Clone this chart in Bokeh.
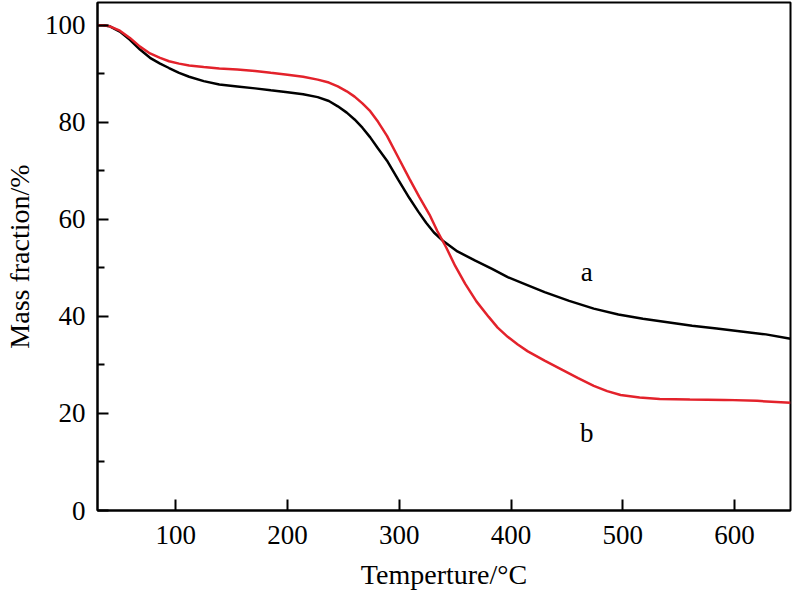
from bokeh.plotting import figure
from bokeh.models import FixedTicker, Range1d
from bokeh.core.properties import value
from bokeh.embed import file_html
from bokeh.resources import INLINE

# Sample a (black)
temp_a = [30, 35, 41, 50, 59, 68, 77, 86, 94, 103, 112, 125, 139, 155, 171, 185, 200, 214, 227, 237, 245, 253, 260, 267, 274, 281, 289, 299, 309, 317, 324, 331, 339, 352, 368, 383, 397, 414, 430, 452, 474, 496, 518, 540, 562, 584, 606, 628, 650]
mass_a = [100, 100, 99.8, 98.7, 97.0, 95.0, 93.3, 92.1, 91.2, 90.2, 89.4, 88.5, 87.8, 87.4, 87.0, 86.6, 86.2, 85.8, 85.2, 84.4, 83.3, 82.0, 80.6, 78.9, 76.9, 74.6, 72.1, 68.2, 64.4, 61.6, 59.3, 57.3, 55.6, 53.4, 51.5, 49.8, 48.1, 46.5, 45.0, 43.2, 41.6, 40.4, 39.5, 38.8, 38.1, 37.5, 36.9, 36.3, 35.4]

# Sample b (red)
temp_b = [30, 35, 41, 50, 59, 68, 77, 86, 94, 103, 112, 125, 139, 155, 171, 185, 200, 214, 227, 237, 245, 253, 260, 267, 274, 281, 289, 299, 309, 318, 327, 334, 342, 350, 359, 369, 380, 388, 397, 406, 415, 430, 445, 460, 474, 486, 498, 515, 533, 560, 591, 620, 650]
mass_b = [100, 100, 99.8, 98.9, 97.4, 95.6, 94.2, 93.3, 92.6, 92.1, 91.7, 91.4, 91.1, 90.9, 90.6, 90.2, 89.8, 89.4, 88.8, 88.2, 87.4, 86.4, 85.3, 83.9, 82.3, 80.1, 77.2, 72.8, 68.4, 64.6, 61.0, 57.6, 54.2, 50.4, 46.7, 43.1, 39.9, 37.7, 35.8, 34.2, 32.8, 30.9, 29.1, 27.3, 25.7, 24.6, 23.8, 23.3, 23.0, 22.9, 22.8, 22.6, 22.2]

x_ticks = [100, 200, 300, 400, 500, 600]
y_ticks = [0, 20, 40, 60, 80, 100]
y_minor = [10, 30, 50, 70, 90]

FONT = "Liberation Serif"

p = figure(width=792, height=594, output_backend="svg", toolbar_location=None,
           x_range=Range1d(30, 650), y_range=Range1d(0, 104.7),
           min_border_left=97, min_border_right=2, min_border_top=2, min_border_bottom=84)

p.grid.visible = False
p.background_fill_color = "white"
p.border_fill_color = "white"
p.outline_line_color = "black"
p.outline_line_width = 2
p.outline_line_alpha = 1.0

p.line(temp_a, mass_a, line_color="black", line_width=2.5)
p.line(temp_b, mass_b, line_color="#e3222b", line_width=2.5)

p.text(x=[467.8], y=[49.1], text=["a"], text_font=value(FONT), text_font_size="27px",
       text_align="center", text_baseline="middle", text_color="black")
p.text(x=[467.8], y=[15.9], text=["b"], text_font=value(FONT), text_font_size="27px",
       text_align="center", text_baseline="middle", text_color="black")

xa = p.xaxis[0]
xa.ticker = FixedTicker(ticks=x_ticks, minor_ticks=[])
ya = p.yaxis[0]
ya.ticker = FixedTicker(ticks=y_ticks, minor_ticks=y_minor)

for ax in (xa, ya):
    ax.axis_line_color = "black"
    ax.axis_line_width = 2
    ax.major_tick_line_color = "black"
    ax.major_tick_line_width = 2
    ax.minor_tick_line_color = "black"
    ax.minor_tick_line_width = 2
    ax.major_tick_in = 11
    ax.major_tick_out = 0
    ax.minor_tick_in = 7
    ax.minor_tick_out = 0
    ax.major_label_text_font = FONT
    ax.major_label_text_font_size = "27px"
    ax.major_label_text_color = "black"
    ax.axis_label_text_font = FONT
    ax.axis_label_text_font_size = "28px"
    ax.axis_label_text_font_style = "normal"
    ax.axis_label_text_color = "black"

xa.axis_label = "Temperture/°C"
ya.axis_label = "Mass fraction/%"
xa.major_label_standoff = 15
ya.major_label_standoff = 12
xa.axis_label_standoff = 12
ya.axis_label_standoff = 7

open("out.html", "w").write(file_html(p, INLINE))
